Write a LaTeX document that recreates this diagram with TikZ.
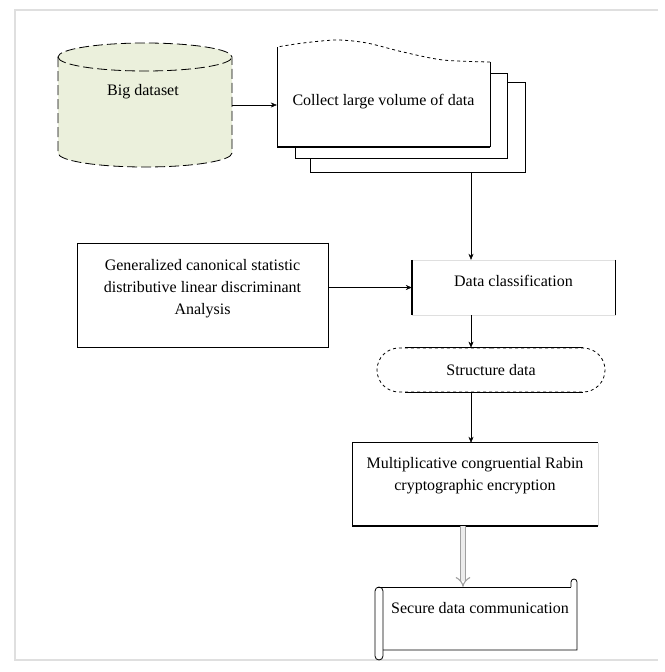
\documentclass[tikz,border=0pt]{standalone}
\usepackage{fontspec}
\setmainfont{Liberation Serif}
\usetikzlibrary{arrows.meta,shapes.misc}
\definecolor{dbfill}{HTML}{EBF0DC}
\begin{document}
\begin{tikzpicture}[x=1pt,y=-1pt,
    every node/.style={font=\fontsize{16}{22}\selectfont, align=center, inner sep=0pt},
    arr/.style={-{Stealth[length=6pt,width=5pt]}},
    docpage/.style={draw, fill=white, thick}]

\useasboundingbox (0,0) rectangle (664,672);
\draw[gray!25, line width=1.5pt] (658,10) -- (15,10) -- (15,660) -- (658,660);

\begin{scope}[dash pattern=on 10pt off 4pt]
    \fill[dbfill] (58,57) -- (58,153) arc[start angle=180, end angle=360, x radius=87pt, y radius=14pt]
        -- (232,57) arc[start angle=0, end angle=180, x radius=87pt, y radius=14pt] -- cycle;
    \draw[thick] (58,57) -- (58,153) arc[start angle=180, end angle=360, x radius=87pt, y radius=14pt]
        -- (232,57) arc[start angle=0, end angle=180, x radius=87pt, y radius=14pt];
    \draw[thick] (58,57) arc[start angle=180, end angle=360, x radius=87pt, y radius=14pt];
\end{scope}
\node (bigdata) at (143,92) {Big dataset};
\coordinate (cylE) at (232,105);

\node[docpage, minimum width=215, minimum height=90] (collect3) at (417.5,127) {};
\node[docpage, minimum width=212, minimum height=85] (collect2) at (401,115.5) {};
\fill[white] (277,147) -- (490,147) -- (490,62)
    -- plot [smooth] coordinates {(490,62) (443,60) (403,52) (367,43) (337,40) (303,43) (277,47)} -- cycle;
\draw[thick] (277,47) -- (277,147) (490,62) -- (490,147);
\draw[line width=1.6pt] (277,147) -- (490,147);
\draw[thick, dashed]
    plot [smooth] coordinates {(490,62) (443,60) (403,52) (367,43) (337,40) (303,43) (277,47)};
\node[minimum width=213, minimum height=90] (collect) at (383.5,102) {Collect large volume of data};

\node[draw, thick, minimum width=251, minimum height=104] (gen) at (202.5,295)
    {Generalized canonical statistic\\distributive linear discriminant\\Analysis\\[-6pt]\mbox{}};
\draw[line width=1.6pt] (gen.north east) -- (gen.south east) -- (gen.south west);

\node[draw=gray!25, minimum width=203, minimum height=55] (dataclass) at (513.5,287.5)
    {Data classification\\[-8pt]\mbox{}};
\draw[line width=1.4pt] (dataclass.north west) -- (dataclass.south west)
    (dataclass.north east) -- (dataclass.south east);

\node[rounded rectangle, draw, dashed, thick, minimum width=228, minimum height=44] (structure) at (491,370) {Structure data};
\draw[line width=1.4pt] ([xshift=-86pt]structure.north) -- ([xshift=92pt]structure.north)
    ([xshift=-86pt]structure.south) -- ([xshift=92pt]structure.south);

\node[minimum width=245, minimum height=83] (multi) at (475,484.5)
    {Multiplicative congruential Rabin\\cryptographic encryption\\\mbox{}};
\draw[gray!30] (multi.north east) -- (multi.south east);
\draw[thick] (multi.north west) -- (multi.north east);
\draw[line width=1.6pt] (multi.north west) -- (multi.south west) -- (multi.south east);

\node[minimum width=194, minimum height=63] (secure) at (480,618.5) {Secure data communication\\\mbox{}};
\draw[thick] (377,587) -- (571,587);
\draw[thick] (571,587) -- (571,582) arc[start angle=180, end angle=0, radius=3pt] -- (577,650) -- (383,650);
\draw[thick] (383,656) -- (383,591) arc[start angle=0, end angle=180, radius=4pt]
    -- (375,656) arc[start angle=180, end angle=360, radius=4pt];

\coordinate (spine) at (471,0);
\coordinate (spine2) at (463,0);
\draw[arr] (cylE) -- (cylE -| collect.west);
\draw[arr] (collect3.south -| spine) -- (dataclass.north -| spine);
\draw[arr] (dataclass.west -| gen.east) -- (dataclass.west);
\draw[arr] (dataclass.south -| spine) -- (structure.north -| spine);
\draw[arr] (structure.south -| spine) -- (multi.north -| spine);
\draw[gray!75, double=gray!15, double distance=4pt, line width=1.1pt, -{Implies}] (multi.south -| spine2) -- (secure.north -| spine2);
\end{tikzpicture}
\end{document}
